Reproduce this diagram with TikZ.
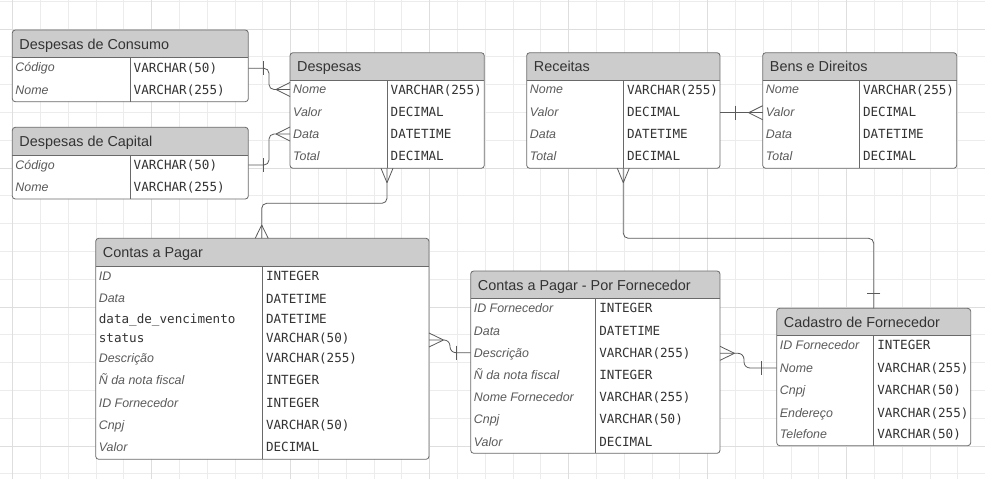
\documentclass[tikz,border=0pt]{standalone}
\usepackage{fontspec}
\setmainfont{Liberation Sans}
\newfontfamily\monof{DejaVu Sans Mono}
\usetikzlibrary{calc}
\definecolor{hdrfill}{RGB}{204,204,204}
\definecolor{bordr}{RGB}{105,105,105}
\definecolor{gridmin}{RGB}{236,236,236}
\definecolor{gridmaj}{RGB}{222,222,222}
\definecolor{lblc}{RGB}{90,90,90}
\definecolor{typc}{RGB}{51,51,51}
\definecolor{connc}{RGB}{90,90,90}
\tikzset{
  hdrtext/.style={inner sep=0, anchor=base west, font=\fontsize{14.4}{17}\selectfont, text=typc},
  lbl/.style={inner sep=0, anchor=base west, font=\fontsize{12.4}{14}\selectfont\itshape, text=lblc},
  mlbl/.style={inner sep=0, anchor=base west, font=\fontsize{12.6}{14}\selectfont\monof, text=typc},
  typ/.style={inner sep=0, anchor=base west, font=\fontsize{12.6}{14}\selectfont\monof, text=typc},
  conn/.style={draw=connc, line width=0.8pt, rounded corners=5pt},
  crowline/.style={draw=connc, line width=0.8pt},
  boxline/.style={draw=bordr, line width=0.8pt},
  gridminline/.style={draw=gridmin, line width=0.8pt},
  gridmajline/.style={draw=gridmaj, line width=0.8pt},
}
% name, left, top, right, header bottom, bottom, divider x, title
\newcommand{\erbox}[8]{%
  \fill[white, rounded corners=3pt] (#2,#3) rectangle (#4,#6);
  \begin{scope}
    \clip[rounded corners=3pt] (#2,#3) rectangle (#4,#6);
    \fill[hdrfill] (#2,#3) rectangle (#4,#5);
  \end{scope}
  \draw[boxline] (#2,#5) -- (#4,#5);
  \draw[boxline] (#7,#5) -- (#7,#6);
  \node[boxline, rounded corners=3pt, inner sep=0, outer sep=0, anchor=north west,
        minimum width={(#4-#2)*1pt}, minimum height={(#6-#3)*1pt}] (#1) at (#2,#3) {};
  \node[hdrtext] (#1-title) at ({#2+7},{(#3+#5)/2+5.5}) {#8};
}
% name, label x, type x, y, label, type
\newcommand{\erattr}[6]{%
  \node[lbl] (#1a) at ({#2},{#4+4.4}) {#5};
  \node[typ] (#1b) at ({#3},{#4+4.6}) {#6};
}
\newcommand{\erattrm}[6]{%
  \node[mlbl] (#1a) at ({#2},{#4+4.6}) {#5};
  \node[typ] (#1b) at ({#3},{#4+4.6}) {#6};
}
% crow's feet: entity east / west / north / south of the apex
\newcommand{\crowE}[1]{\draw[crowline] ([xshift=-14pt]#1) -- ([yshift=7pt]#1) ([xshift=-14pt]#1) -- ([yshift=-7pt]#1);}
\newcommand{\crowW}[1]{\draw[crowline] ([xshift=14.5pt]#1) -- ([yshift=7pt]#1) ([xshift=14.5pt]#1) -- ([yshift=-7pt]#1);}
\newcommand{\crowN}[1]{\draw[crowline] ([yshift=-14.4pt]#1) -- ([xshift=6pt]#1) ([yshift=-14.4pt]#1) -- ([xshift=-6pt]#1);}
\newcommand{\crowS}[1]{\draw[crowline] ([yshift=13.3pt]#1) -- ([xshift=6.5pt]#1) ([yshift=13.3pt]#1) -- ([xshift=-6.5pt]#1);}
\newcommand{\barV}[2]{\draw[crowline] ([xshift=#2,yshift=7pt]#1) -- ([xshift=#2,yshift=-7pt]#1);}
\newcommand{\barH}[2]{\draw[crowline] ([yshift=#2,xshift=6.7pt]#1) -- ([yshift=#2,xshift=-6.7pt]#1);}
\begin{document}
\begin{tikzpicture}[x=1pt,y=-1pt]
\useasboundingbox (0,0) rectangle (985,479);
\fill[white] (0,0) rectangle (985,479);
% grid
\foreach \i in {0,...,35} \draw[gridminline] ({12.5+27.8*\i},0) -- ++(0,479);
\foreach \j in {0,...,17} \draw[gridminline] (0,{1.2+27.8*\j}) -- ++(985,0);
\foreach \i in {0,...,7} \draw[gridmajline] ({12.5+139*\i},0) -- ++(0,479);
\foreach \j in {0,...,3} \draw[gridmajline] (0,{29+139*\j}) -- ++(985,0);

% entities
\erbox{cons}{12.3}{30}{248.3}{57.3}{101.7}{130}{Despesas de Consumo}
\erattr{cons1}{15.3}{133.5}{67.5}{Código}{VARCHAR(50)}
\erattr{cons2}{15.3}{133.5}{90}{Nome}{VARCHAR(255)}

\erbox{capi}{12.3}{127.3}{248.3}{155}{199}{130}{Despesas de Capital}
\erattr{capi1}{15.3}{133.5}{165}{Código}{VARCHAR(50)}
\erattr{capi2}{15.3}{133.5}{187}{Nome}{VARCHAR(255)}

\erbox{desp}{290}{52.7}{484.3}{80}{168.3}{387}{Despesas}
\erattr{desp1}{293}{390.5}{89.5}{Nome}{VARCHAR(255)}
\erattr{desp2}{293}{390.5}{111.7}{Valor}{DECIMAL}
\erattr{desp3}{293}{390.5}{134}{Data}{DATETIME}
\erattr{desp4}{293}{390.5}{156}{Total}{DECIMAL}

\erbox{rec}{526.7}{52.7}{720}{80}{168.3}{623.3}{Receitas}
\erattr{rec1}{529.7}{626.8}{89.5}{Nome}{VARCHAR(255)}
\erattr{rec2}{529.7}{626.8}{111.7}{Valor}{DECIMAL}
\erattr{rec3}{529.7}{626.8}{134}{Data}{DATETIME}
\erattr{rec4}{529.7}{626.8}{156}{Total}{DECIMAL}

\erbox{bens}{762.7}{52.7}{956.7}{80}{168.3}{859.3}{Bens e Direitos}
\erattr{bens1}{765.7}{862.8}{89.5}{Nome}{VARCHAR(255)}
\erattr{bens2}{765.7}{862.8}{111.7}{Valor}{DECIMAL}
\erattr{bens3}{765.7}{862.8}{134}{Data}{DATETIME}
\erattr{bens4}{765.7}{862.8}{156}{Total}{DECIMAL}

\erbox{cp}{95.7}{238.3}{429}{266}{459.3}{262.3}{Contas a Pagar}
\erattr{cp1}{98.7}{265.8}{276.3}{ID}{INTEGER}
\erattr{cp2}{98.7}{265.8}{298.5}{Data}{DATETIME}
\erattrm{cp3}{98.7}{265.8}{319.3}{data\_de\_vencimento}{DATETIME}
\erattrm{cp4}{98.7}{265.8}{338.3}{status}{VARCHAR(50)}
\erattr{cp5}{98.7}{265.8}{358}{Descrição}{VARCHAR(255)}
\erattr{cp6}{98.7}{265.8}{380.3}{Ñ da nota fiscal}{INTEGER}
\erattr{cp7}{98.7}{265.8}{402.7}{ID Fornecedor}{INTEGER}
\erattr{cp8}{98.7}{265.8}{425.2}{Cnpj}{VARCHAR(50)}
\erattr{cp9}{98.7}{265.8}{447.3}{Valor}{DECIMAL}

\erbox{cpf}{470.7}{271}{720}{298.3}{453.3}{595.7}{Contas a Pagar - Por Fornecedor}
\erattr{cpf1}{473.7}{599.2}{308.3}{ID Fornecedor}{INTEGER}
\erattr{cpf2}{473.7}{599.2}{330.7}{Data}{DATETIME}
\erattr{cpf3}{473.7}{599.2}{352.7}{Descrição}{VARCHAR(255)}
\erattr{cpf4}{473.7}{599.2}{375.3}{Ñ da nota fiscal}{INTEGER}
\erattr{cpf5}{473.7}{599.2}{397}{Nome Fornecedor}{VARCHAR(255)}
\erattr{cpf6}{473.7}{599.2}{419.3}{Cnpj}{VARCHAR(50)}
\erattr{cpf7}{473.7}{599.2}{441.7}{Valor}{DECIMAL}

\erbox{cad}{776.7}{308.3}{970.7}{335}{445.7}{873.7}{Cadastro de Fornecedor}
\erattr{cad1}{779.7}{877.2}{345}{ID Fornecedor}{INTEGER}
\erattr{cad2}{779.7}{877.2}{367.7}{Nome}{VARCHAR(255)}
\erattr{cad3}{779.7}{877.2}{389.7}{Cnpj}{VARCHAR(50)}
\erattr{cad4}{779.7}{877.2}{412.7}{Endereço}{VARCHAR(255)}
\erattr{cad5}{779.7}{877.2}{434}{Telefone}{VARCHAR(50)}

% connector end points
\coordinate (c1s) at (248.3,68.3);  \coordinate (c1e) at (290,89.5);
\coordinate (c2s) at (248.3,165);   \coordinate (c2e) at (290,134);
\coordinate (c3s) at (387,168.3);   \coordinate (c3e) at (261.7,238.3);
\coordinate (c4s) at (720,112.7);   \coordinate (c4e) at (762.7,112.7);
\coordinate (c5s) at (623.3,168.3); \coordinate (c5e) at (873.7,308.3);
\coordinate (c6s) at (429,340);     \coordinate (c6e) at (470.7,352.7);
\coordinate (c7s) at (720,353.3);   \coordinate (c7e) at (776.7,368);

% connectors
\draw[conn] (c1s) -- ++(20.7,0) |- (c1e);
\barV{c1s}{15pt} \crowE{c1e}
\draw[conn] (c2s) -- ++(20.7,0) |- (c2e);
\barV{c2s}{15pt} \crowE{c2e}
\draw[conn] (c3s) -- ++(0,35) -| (c3e);
\crowN{c3s} \crowS{c3e}
\draw[crowline] (c4s) -- (c4e);
\barV{c4s}{15pt} \crowE{c4e}
\draw[conn] (c5s) -- ++(0,70) -| (c5e);
\crowN{c5s} \barH{c5e}{15pt}
\draw[conn, rounded corners=6pt] (c6s) -- ++(21,0) |- (c6e);
\crowW{c6s} \barV{c6e}{-14.7pt}
\draw[conn, rounded corners=6pt] (c7s) -- ++(24,0) |- (c7e);
\crowW{c7s} \barV{c7e}{-15pt}
\end{tikzpicture}
\end{document}
